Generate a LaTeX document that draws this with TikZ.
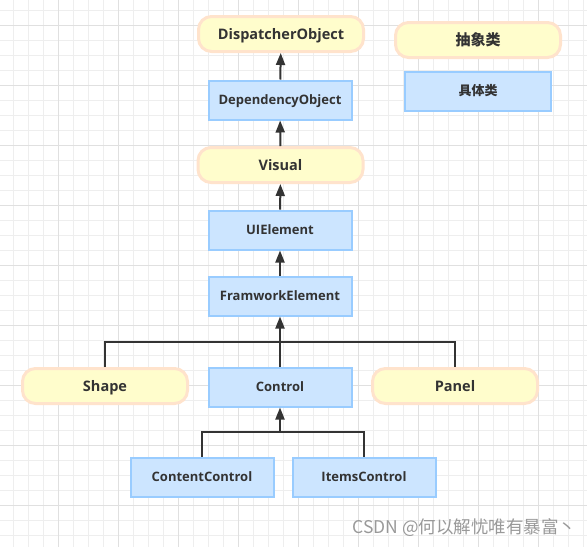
\documentclass[tikz,border=0pt]{standalone}
\usepackage{fontspec}
\setmainfont{Open Sans}
\newfontfamily\cjk{Noto Sans CJK SC}
\usetikzlibrary{arrows.meta}

\definecolor{absfill}{HTML}{FFFDCC}
\definecolor{absline}{HTML}{FFE3CC}
\definecolor{confill}{HTML}{CCE5FF}
\definecolor{conline}{HTML}{99CCFF}
\definecolor{ink}{HTML}{333333}
\definecolor{minorgrid}{HTML}{EEEEEE}
\definecolor{majorgrid}{HTML}{E0E0E0}

\begin{document}
\begin{tikzpicture}[x=1pt,y=-1pt,
    abstract/.style={draw=absline,fill=absfill,line width=3pt,rounded corners=13pt,
        minimum width=165pt,minimum height=35pt,text=ink,text height=10.5pt,text depth=0pt,
        font=\bfseries\fontsize{14.5}{16}\selectfont},
    concrete/.style={draw=conline,fill=confill,line width=2pt,
        minimum width=143pt,minimum height=39pt,text=ink,text height=9.5pt,text depth=0pt,
        font=\bfseries\fontsize{13}{15}\selectfont},
    link/.style={draw=ink,line width=2pt},
    inherit/.style={link,-{Triangle[length=12pt,width=9pt]}}]
\useasboundingbox[fill=white] (0,0) rectangle (587,547);

% Grid
\foreach \x in {13.3,28.3,...,587} {
    \draw[minorgrid,line width=1pt] (\x,0) -- (\x,547);
}
\foreach \y in {10,25,...,547} {
    \draw[minorgrid,line width=1pt] (0,\y) -- (587,\y);
}
\foreach \x in {58.3,118.3,...,587} {
    \draw[majorgrid,line width=1pt] (\x,0) -- (\x,547);
}
\foreach \y in {25,85,...,547} {
    \draw[majorgrid,line width=1pt] (0,\y) -- (587,\y);
}

% Chain
\node[abstract] (dispatcher) at (281,34) {DispatcherObject};
\node[concrete] (dependency) at (280,100) {DependencyObject};
\node[abstract] (visual) at (280.5,165) {Visual};
\node[concrete] (uielement) at (280,230) {UIElement};
\node[concrete] (framework) at (280,296) {FramworkElement};

% Children
\node[abstract] (shape) at (105,386) {Shape};
\node[concrete] (control) at (280,387) {Control};
\node[abstract] (panel) at (455,386) {Panel};
\node[concrete] (content) at (202,477) {ContentControl};
\node[concrete] (items) at (364,477) {ItemsControl};

% Legend
\node[abstract,text height=11pt,text depth=1pt,font=\cjk\bfseries\fontsize{15}{17}\selectfont] (abslegend) at (478,40) {抽象类};
\node[concrete,minimum width=146pt,text height=10pt,text depth=1pt,font=\cjk\bfseries\fontsize{13}{15}\selectfont] (conlegend) at (478,91) {具体类};

% Arrows
\draw[inherit] (dependency) -- (dispatcher);
\draw[inherit] (visual) -- (dependency);
\draw[inherit] (uielement) -- (visual);
\draw[inherit] (framework) -- (uielement);

\coordinate (fbus) at (280,342);
\draw[link] (shape.north) |- (fbus) -| (panel.north);
\draw[inherit] (control.north) -- (framework.south);

\coordinate (cbus) at (280,432);
\draw[link] (content.north) |- (cbus) -| (items.north);
\draw[inherit] (cbus) -- (control.south);

% Watermark
\node[anchor=east,text=black!40,font=\cjk\fontsize{17.5}{20}\selectfont] (mark) at (580,528) {CSDN @何以解忧唯有暴富丶};
\end{tikzpicture}
\end{document}
